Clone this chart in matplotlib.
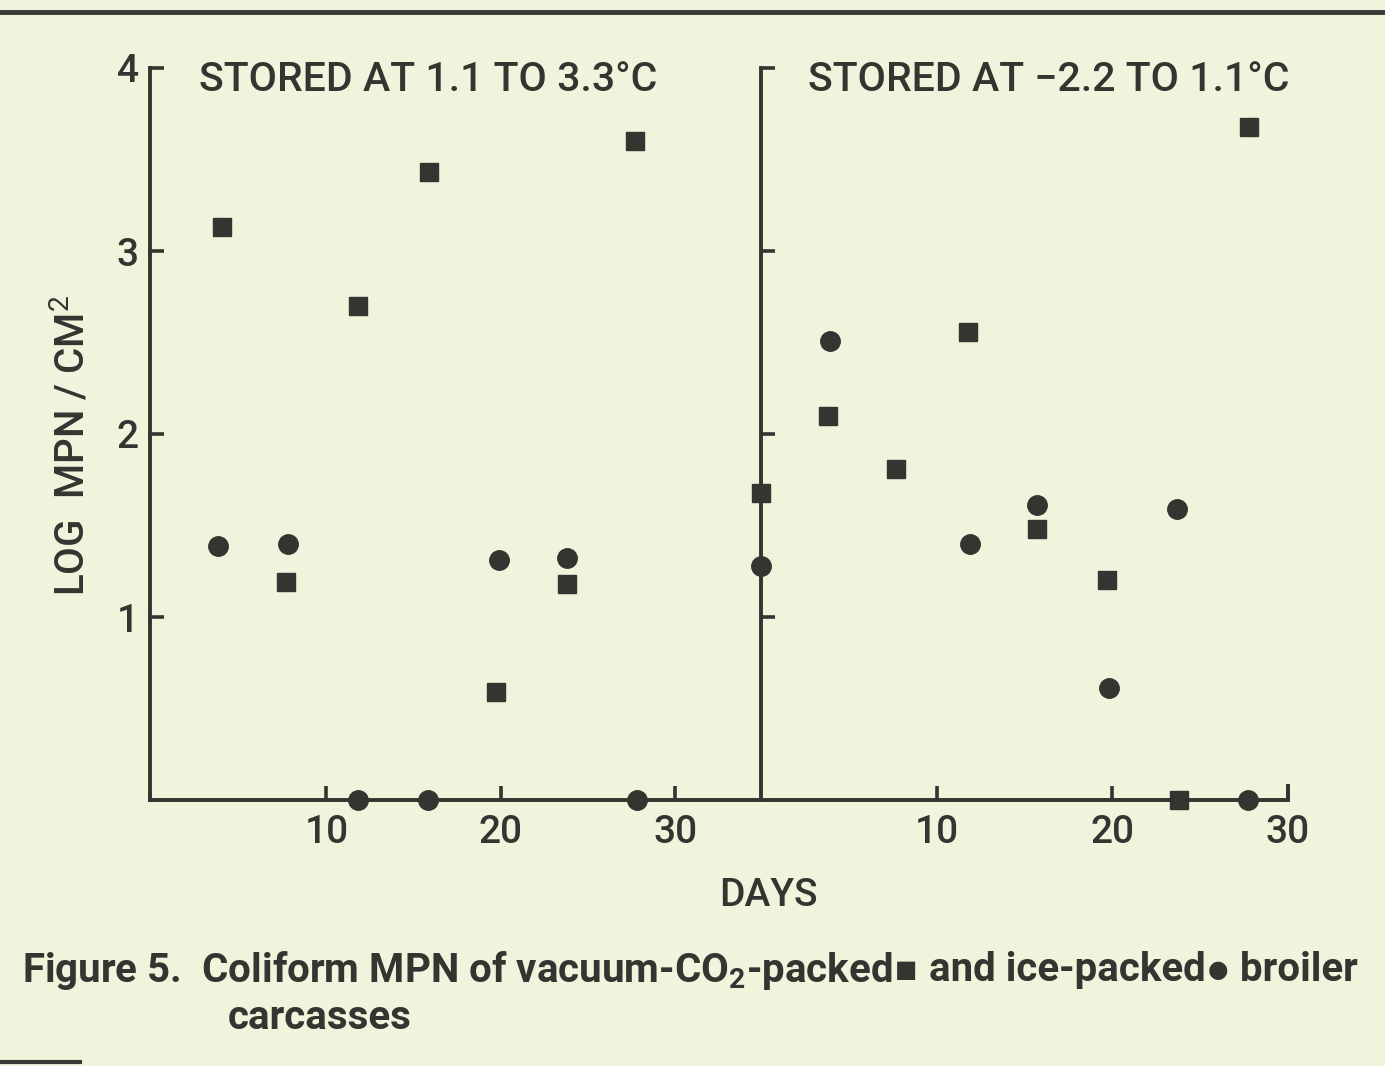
import matplotlib
matplotlib.use("Agg")
import matplotlib.pyplot as plt
from matplotlib.lines import Line2D

# ---- data ----
left_sq_days = [4.0, 7.7, 11.8, 15.9, 19.7, 23.8, 27.7]
left_sq_vals = [3.13, 1.19, 2.70, 3.43, 0.59, 1.18, 3.60]
left_ci_days = [3.8, 7.8, 11.8, 15.8, 19.9, 23.8, 27.8]
left_ci_vals = [1.39, 1.40, 0.0, 0.0, 1.31, 1.32, 0.0]

right_sq_days = [0.0, 3.8, 7.7, 11.8, 15.7, 19.7, 23.8, 27.8]
right_sq_vals = [1.68, 2.10, 1.81, 2.56, 1.48, 1.20, 0.0, 3.68]
right_ci_days = [0.0, 3.9, 11.9, 15.7, 19.8, 23.7, 27.7]
right_ci_vals = [1.28, 2.51, 1.40, 1.61, 0.61, 1.59, 0.0]

x_ticks = [10, 20, 30]
y_ticks = [1, 2, 3, 4]
y_tick_labels = ["1", "2", "3", "4"]
left_title = "STORED AT 1.1 TO 3.3°C"
right_title = "STORED AT \u22122.2 TO 1.1°C"
caption_parts = ["Figure 5.  Coliform MPN of vacuum-CO$_{\\mathbf{2}}$-packed", "\u25a0",
                 " and ice-packed", "\u25cf", " broiler"]
caption_line2 = "carcasses"

BG = "#f2f3dc"
INK = "#343430"
FONT = ["Roboto", "DejaVu Sans"]
plt.rcParams["font.family"] = FONT
plt.rcParams["mathtext.fontset"] = "custom"
plt.rcParams["mathtext.rm"] = "Roboto"
plt.rcParams["mathtext.bf"] = "Roboto:bold"

W, H = 1385, 1066
fig = plt.figure(figsize=(W / 100, H / 100), dpi=100, facecolor=BG)

def px_axes(x0, x1, ytop, ybot):
    return fig.add_axes([x0 / W, (H - ybot) / H, (x1 - x0) / W, (ybot - ytop) / H])

axL = px_axes(150, 761, 68, 800)
axR = px_axes(761, 1288, 68, 800)

for ax, xmax in ((axL, 34.9), (axR, 30.0)):
    ax.set_facecolor("none")
    ax.set_xlim(-0.1 if ax is axL else 0.0, xmax)
    ax.set_ylim(0, 4)
    for s in ("top", "right"):
        ax.spines[s].set_visible(False)
    for s in ("left", "bottom"):
        ax.spines[s].set_linewidth(2.8)
        ax.spines[s].set_color(INK)
        ax.spines[s].set_capstyle("projecting")
    ax.set_xticks(x_ticks)
    ax.set_yticks(y_ticks)
    ax.tick_params(direction="in", length=10, width=2.6, color=INK,
                   labelsize=28, labelcolor=INK, pad=10)
    ax.tick_params(axis="y", pad=8)
    for lab in ax.get_xticklabels() + ax.get_yticklabels():
        lab.set_fontweight("medium")

axL.set_yticklabels(y_tick_labels, fontweight="medium")
axR.set_yticklabels([])
axR.set_xticklabels([str(t) for t in x_ticks], fontweight="medium")
axL.set_xticklabels([str(t) for t in x_ticks], fontweight="medium")

# end tick at 30 on the right panel
axR.plot([30, 30], [0, 0.09], color=INK, lw=2.8, clip_on=False, solid_capstyle="butt")

mk = dict(linestyle="none", color=INK, clip_on=False, zorder=5)
axL.plot(left_sq_days, left_sq_vals, marker="s", markersize=12.5, **mk)
axL.plot(left_ci_days, left_ci_vals, marker="o", markersize=14, **mk)
axR.plot(right_sq_days, right_sq_vals, marker="s", markersize=12.5, **mk)
axR.plot(right_ci_days, right_ci_vals, marker="o", markersize=14, **mk)

# panel titles
fig.text(199 / W, 1 - 80 / H, left_title, fontsize=29.5, fontweight="medium",
         color=INK, ha="left", va="center")
fig.text(808 / W, 1 - 80 / H, right_title, fontsize=29.5, fontweight="medium",
         color=INK, ha="left", va="center")

# axis labels
fig.text(768 / W, 1 - 895 / H, "DAYS", fontsize=28, fontweight="medium",
         color=INK, ha="center", va="center")
fig.text(72 / W, 1 - 445 / H, "LOG  MPN / CM$^{2}$", fontsize=29, fontweight="medium",
         color=INK, rotation=90, ha="center", va="center")

# caption, laid out piece by piece
renderer = fig.canvas.get_renderer()
x = 22.0
ycap = 1 - 970 / H
for i, part in enumerate(caption_parts):
    if part in ("\u25a0", "\u25cf"):
        t = fig.text(x / W, ycap, part, fontsize=17, family="DejaVu Sans",
                     color=INK, ha="left", va="center")
    else:
        t = fig.text(x / W, ycap, part, fontsize=29, fontweight="bold",
                     color=INK, ha="left", va="center")
    bb = t.get_window_extent(renderer=renderer)
    x = bb.x1 + 2
fig.text(228 / W, 1 - 1018 / H, caption_line2, fontsize=29, fontweight="bold",
         color=INK, ha="left", va="center")

# frame lines of the page
fig.add_artist(Line2D([0, 1], [1 - 12 / H, 1 - 12 / H], color="#3a3a36", lw=3.5))
fig.add_artist(Line2D([0, 80 / W], [1 - 1062 / H, 1 - 1062 / H], color="#3a3a36", lw=3))

fig.savefig("out.png", dpi=100, facecolor=BG)
